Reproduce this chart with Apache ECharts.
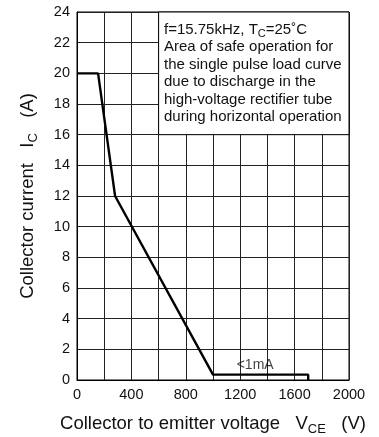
<!DOCTYPE html>
<html>
<head>
<meta charset="utf-8">
<script src="https://cdn.jsdelivr.net/npm/echarts@6/dist/echarts.min.js"></script>
<style>
  html, body { margin: 0; padding: 0; background: #fff; }
  #chart { width: 379px; height: 437px; }
</style>
</head>
<body>
<div id="chart"></div>
<script>
// Safe operating area boundary: collector-emitter voltage (V) vs collector current (A)
const vceVolts = [0, 155, 280, 1000, 1700, 1700];
const icAmps   = [20, 20, 12, 0.35, 0.35, 0];

// Leakage annotation
const leakNote = { vce: 1310, ic: 0.95, text: '<1mA' };

// Region covered by the condition note
const noteBoxV = [600, 2000];
const noteBoxI = [16, 24];
const noteLines = [
  'f=15.75kHz, T{sub|C}=25˚C',
  'Area of safe operation for',
  'the single pulse load curve',
  'due to discharge in the',
  'high-voltage rectifier tube',
  'during horizontal operation'
];

const yTicks = { min: 0, max: 24, step: 2 };
const xTicks = { min: 0, max: 2000, step: 200, labelEvery: 400 };

const FONT = 'Liberation Sans, Arial, sans-serif';
const chart = echarts.init(document.getElementById('chart'));

const titleStyle = {
  fontSize: 18.5, color: '#111', fontFamily: FONT,
  rich: { sub: { fontSize: 13, padding: [11, 0, 0, 0], color: '#111', fontFamily: FONT } }
};

chart.setOption({
  animation: false,
  backgroundColor: '#fff',
  textStyle: { fontFamily: FONT },
  grid: {
    left: 77, right: 30, top: 12, bottom: 57,
    containLabel: false, outerBoundsMode: 'none',
    show: true, borderColor: '#000', borderWidth: 1
  },
  xAxis: {
    type: 'value',
    min: xTicks.min, max: xTicks.max, interval: xTicks.step,
    name: 'Collector to emitter voltage   V{sub|CE}   (V)',
    nameLocation: 'middle', nameGap: 32,
    nameTextStyle: titleStyle,
    axisLine: { show: true, lineStyle: { color: '#000', width: 1 } },
    axisTick: { show: false },
    axisLabel: {
      margin: 7, fontSize: 14.5, color: '#111', fontFamily: FONT,
      formatter: v => (v % xTicks.labelEvery === 0 ? String(v) : '')
    },
    splitLine: { show: true, lineStyle: { color: '#222', width: 1 } }
  },
  yAxis: {
    type: 'value',
    min: yTicks.min, max: yTicks.max, interval: yTicks.step,
    name: 'Collector current   I{sub|C}   (A)',
    nameLocation: 'middle', nameGap: 37, nameRotate: 90,
    nameTextStyle: titleStyle,
    axisLine: { show: true, lineStyle: { color: '#000', width: 1 } },
    axisTick: { show: false },
    axisLabel: { margin: 7, fontSize: 14.5, color: '#111', fontFamily: FONT },
    splitLine: { show: true, lineStyle: { color: '#222', width: 1 } }
  },
  series: [
    {
      type: 'line',
      data: vceVolts.map((v, i) => [v, icAmps[i]]),
      symbol: 'none',
      lineStyle: { color: '#000', width: 2.4 },
      z: 3,
      markArea: {
        silent: true,
        itemStyle: { color: '#fff', borderColor: '#000', borderWidth: 1 },
        data: [[{ coord: [noteBoxV[0], noteBoxI[1]] }, { coord: [noteBoxV[1], noteBoxI[0]] }]]
      }
    },
    {
      type: 'scatter',
      data: [[leakNote.vce, leakNote.ic]],
      symbolSize: 0,
      silent: true,
      label: {
        show: true, position: 'inside', formatter: leakNote.text,
        fontSize: 14, color: '#111', fontFamily: FONT
      }
    }
  ],
  graphic: [
    {
      type: 'text',
      left: 164, top: 21,
      z: 100,
      style: {
        text: noteLines.join('\n'),
        fontSize: 15, lineHeight: 17.5, fill: '#111', fontFamily: FONT,
        rich: {
          sub: { fontSize: 11, padding: [8, 0, 0, 0], fill: '#111', fontFamily: FONT }
        }
      }
    }
  ]
});
</script>
</body>
</html>
